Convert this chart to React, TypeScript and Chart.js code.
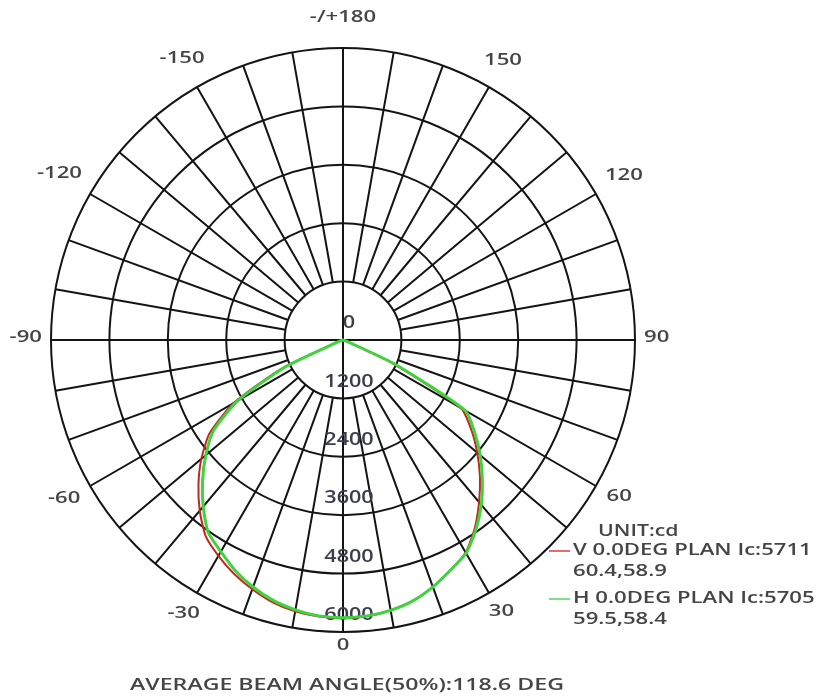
import React, { useEffect, useRef } from "react";
import { Chart, registerables } from "chart.js";

Chart.register(...registerables);

// Gamma angle in degrees: 0 = straight down, positive toward the right (90 side)
const sampleAngles = [-90, -85, -80, -75, -70, -65, -60, -55, -50, -45, -40, -35, -30, -25, -20, -15, -10, -5, 0, 5, 10, 15, 20, 25, 30, 35, 40, 45, 50, 55, 60, 65, 70, 75, 80, 85, 90];
// Luminous intensity (cd)
const vIntensity = [0, 0, 0, 0, 150, 1400, 2600, 3350, 3800, 4200, 4580, 4920, 5120, 5300, 5450, 5580, 5660, 5705, 5711, 5700, 5640, 5550, 5400, 5220, 5040, 4720, 4350, 3980, 3600, 3220, 2800, 1100, 100, 0, 0, 0, 0];
const hIntensity = [0, 0, 0, 0, 100, 1300, 2500, 3250, 3680, 4080, 4470, 4830, 5020, 5230, 5400, 5540, 5630, 5690, 5705, 5690, 5640, 5550, 5400, 5220, 5060, 4760, 4420, 4050, 3680, 3300, 2900, 1200, 100, 0, 0, 0, 0];

const ringTicks = [0, 1200, 2400, 3600, 4800, 6000];
const angleTickValues = [180, 150, 120, 90, 60, 30, 0, -30, -60, -90, -120, -150];
const angleTickLabels = ["-/+180", "150", "120", "90", "60", "30", "0", "-30", "-60", "-90", "-120", "-150"];

const unitLabel = "UNIT:cd";
const seriesNames = ["V 0.0DEG PLAN Ic:5711", "H 0.0DEG PLAN Ic:5705"];
const seriesHalfAngles = ["60.4,58.9", "59.5,58.4"];
const beamAngleText = "AVERAGE BEAM ANGLE(50%):118.6 DEG";

// Radar categories every 5 degrees, clockwise from the top (180)
const gridAngles: number[] = Array.from({ length: 72 }, (_, i) => 180 - 5 * i);

const toGrid = (vals: number[]) =>
  gridAngles.map((a) => {
    const k = sampleAngles.indexOf(a);
    return k >= 0 ? vals[k] : 0;
  });

const FONT = '"Open Sans", "Noto Sans", sans-serif';
const WEIGHT = 600;
const LINE_COLOR = "#141414";
const TEXT_COLOR = "#454545";
const TICK_COLOR = "#3a3e4a";
const RED = "#c0281c";
const GREEN = "#3fd43f";

function drawText(
  ctx: CanvasRenderingContext2D,
  text: string,
  x: number,
  y: number,
  size: number,
  align: "left" | "center" | "right",
  color: string,
  hs: number
) {
  ctx.save();
  ctx.font = `${WEIGHT} ${size}px ${FONT}`;
  ctx.fillStyle = color;
  ctx.textBaseline = "middle";
  ctx.textAlign = "left";
  const w = ctx.measureText(text).width * hs;
  const left = align === "left" ? x : align === "center" ? x - w / 2 : x - w;
  ctx.translate(left, y);
  ctx.scale(hs, 1);
  ctx.fillText(text, 0, 0);
  ctx.restore();
}

function textWidth(ctx: CanvasRenderingContext2D, text: string, size: number, hs: number) {
  ctx.save();
  ctx.font = `${WEIGHT} ${size}px ${FONT}`;
  const w = ctx.measureText(text).width * hs;
  ctx.restore();
  return w;
}

const textPlugin = {
  id: "photometricText",
  beforeDatasetsDraw(chart: any) {
    const s = chart.scales.r;
    const ctx = chart.ctx as CanvasRenderingContext2D;
    ringTicks.forEach((v) => {
      const d = s.getDistanceFromCenterForValue(v);
      drawText(ctx, String(v), s.xCenter + 6, s.yCenter + d - 17, 18, "center", TICK_COLOR, 1.2);
    });
  },
  afterDraw(chart: any) {
    const s = chart.scales.r;
    const ctx = chart.ctx as CanvasRenderingContext2D;
    const R = s.drawingArea;

    // angle labels around the rim
    angleTickValues.forEach((a, k) => {
      const idx = gridAngles.indexOf(a);
      const p = s.getPointPosition(idx, 1);
      const ux = p.x - s.xCenter;
      const uy = p.y - s.yCenter;
      const label = angleTickLabels[k];
      const hw = textWidth(ctx, label, 17, 1.3) / 2;
      const hh = 7;
      const extra = a === 180 ? 12 : 0;
      const dist = R + 9 + Math.abs(ux) * hw + Math.abs(uy) * hh + extra + Math.abs(ux * uy) * 8;
      drawText(ctx, label, s.xCenter + ux * dist, s.yCenter + uy * dist - 3, 17, "center", TEXT_COLOR, 1.3);
    });

    // legend block
    drawText(ctx, unitLabel, 590, 523, 17, "left", TEXT_COLOR, 1.25);
    const rows = [542, 590];
    rows.forEach((y, i) => {
      ctx.save();
      ctx.strokeStyle = i === 0 ? "#e07070" : "#7ee07e";
      ctx.lineWidth = 2;
      ctx.beginPath();
      ctx.moveTo(541, y + 1);
      ctx.lineTo(562, y + 1);
      ctx.stroke();
      ctx.restore();
      drawText(ctx, seriesNames[i], 565, y, 17, "left", TEXT_COLOR, 1.3);
      drawText(ctx, seriesHalfAngles[i], 565, y + 21, 17, "left", TEXT_COLOR, 1.3);
    });

    // beam angle caption
    drawText(ctx, beamAngleText, s.xCenter + 4, 677, 17, "center", TEXT_COLOR, 1.36);
  },
};

export default function App() {
  const canvasRef = useRef<HTMLCanvasElement | null>(null);

  useEffect(() => {
    if (!canvasRef.current) return;
    const chart = new Chart(canvasRef.current, {
      type: "radar",
      data: {
        labels: gridAngles.map(String),
        datasets: [
          {
            label: seriesNames[0],
            data: toGrid(vIntensity),
            borderColor: RED,
            borderWidth: 2,
            pointRadius: 0,
            fill: false,
            tension: 0.2,
            order: 2,
          },
          {
            label: seriesNames[1],
            data: toGrid(hIntensity),
            borderColor: GREEN,
            borderWidth: 3,
            pointRadius: 0,
            fill: false,
            tension: 0.2,
            order: 1,
          },
        ],
      },
      options: {
        animation: false,
        responsive: true,
        maintainAspectRatio: false,
        layout: { padding: { left: 43, right: 188, top: 40, bottom: 65 } },
        plugins: {
          legend: { display: false },
          tooltip: { enabled: false },
          title: { display: false },
        },
        scales: {
          r: {
            min: 0,
            max: 6000,
            startAngle: 0,
            ticks: { display: false, stepSize: 1200 },
            grid: { circular: true, color: LINE_COLOR, lineWidth: 2 },
            angleLines: {
              display: true,
              color: LINE_COLOR,
              lineWidth: (c: any) => (gridAngles[c.index] % 10 === 0 ? 2 : 0),
              borderDash: (c: any) => {
                const a = gridAngles[c.index];
                if (a % 90 === 0) return [];
                const sc = c.chart.scales.r;
                const inner = sc.getDistanceFromCenterForValue(1200);
                return [0, inner, 2000];
              },
            },
            pointLabels: { display: false },
          },
        },
      } as any,
      plugins: [textPlugin],
    });
    return () => chart.destroy();
  }, []);

  return (
    <div style={{ position: "relative", width: 815, height: 689 }}>
      <canvas ref={canvasRef} />
    </div>
  );
}
